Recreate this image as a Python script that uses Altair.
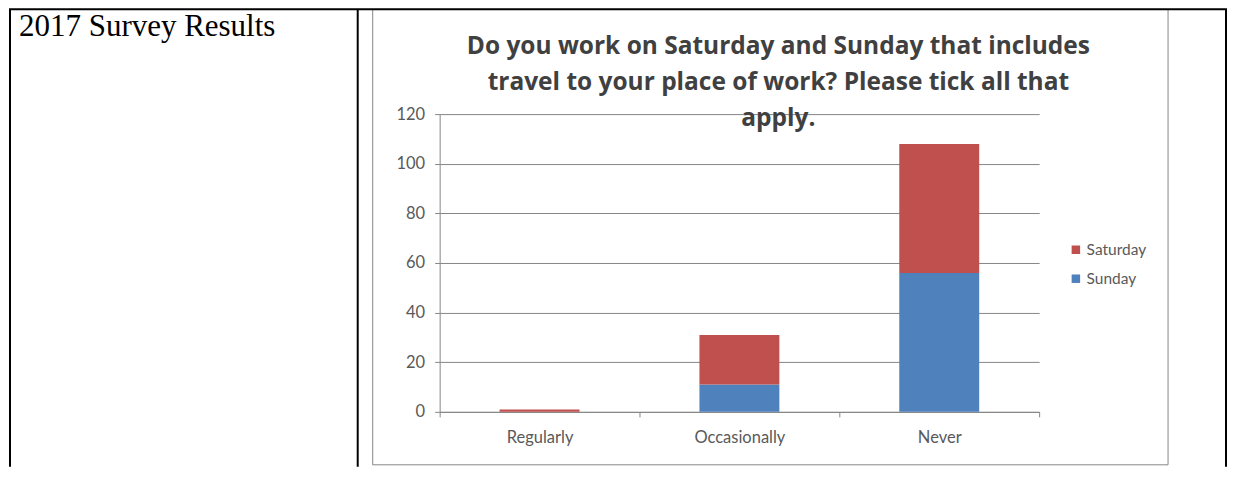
import altair as alt
import pandas as pd

CATEGORIES = ["Regularly", "Occasionally", "Never"]
SERIES = ["Saturday", "Sunday"]
SATURDAY = [1, 20, 52]
SUNDAY = [0, 11, 56]
Y_TICKS = [0, 20, 40, 60, 80, 100, 120]
TITLE_LINES = [
    "Do you work on Saturday and Sunday that includes",
    "travel to your place of work? Please tick all that",
    "apply.",
]
PAGE_TEXT = "2017 Survey Results"

rows = []
for i, c in enumerate(CATEGORIES):
    rows.append({"category": c, "series": "Sunday", "value": SUNDAY[i], "order": 0})
    rows.append({"category": c, "series": "Saturday", "value": SATURDAY[i], "order": 1})
df = pd.DataFrame(rows)

LABEL_FONT = "Lato"
AXIS_GRAY = "#868686"
TEXT_GRAY = "#595959"

bars = alt.Chart(df).mark_bar(size=80).encode(
    x=alt.X(
        "category:N",
        sort=CATEGORIES,
        scale=alt.Scale(paddingInner=0, paddingOuter=0),
        axis=alt.Axis(
            title=None,
            labelAngle=0,
            tickBand="extent",
            tickSize=5,
            tickColor=AXIS_GRAY,
            domainColor=AXIS_GRAY,
            labelFont=LABEL_FONT,
            labelFontSize=16.5,
            labelColor=TEXT_GRAY,
            labelPadding=13,
            grid=False,
        ),
    ),
    y=alt.Y(
        "value:Q",
        stack="zero",
        scale=alt.Scale(domain=[0, 120], nice=False),
        axis=alt.Axis(
            title=None,
            values=Y_TICKS,
            tickSize=5,
            tickColor=AXIS_GRAY,
            domainColor=AXIS_GRAY,
            gridColor=AXIS_GRAY,
            grid=True,
            labelFont=LABEL_FONT,
            labelFontSize=16.5,
            labelColor=TEXT_GRAY,
            labelPadding=10,
        ),
    ),
    color=alt.Color(
        "series:N",
        scale=alt.Scale(domain=SERIES, range=["#C0504D", "#4F81BD"]),
        legend=alt.Legend(
            title=None,
            orient="none",
            legendX=629,
            legendY=128,
            symbolType="square",
            symbolSize=72,
            symbolStrokeWidth=0,
            labelFont=LABEL_FONT,
            labelFontSize=15.5,
            labelColor=TEXT_GRAY,
            labelOffset=3,
            rowPadding=12,
            padding=0,
        ),
    ),
    order=alt.Order("order:Q"),
)


def rule(x, x2, y, y2, color, width):
    return alt.Chart(alt.Data(values=[{}])).mark_rule(
        color=color, strokeWidth=width
    ).encode(x=alt.value(x), x2=alt.value(x2), y=alt.value(y), y2=alt.value(y2))


# table and chart box (pixel offsets relative to the plot origin)
box_gray = "#868686"
frame = [
    rule(-67, -67, -105, 351, box_gray, 1),
    rule(729, 729, -105, 351, box_gray, 1),
    rule(-67, 729, 351, 351, box_gray, 1),
    rule(-431, 788, -105, -105, "black", 2),
    rule(-430, -430, -105, 353, "black", 2),
    rule(-82, -82, -105, 353, "black", 2),
    rule(787, 787, -105, 353, "black", 2),
]

title = alt.Chart(alt.Data(values=[{}])).mark_text(
    text=TITLE_LINES,
    lineHeight=36,
    align="center",
    baseline="alphabetic",
    font="Open Sans",
    fontWeight="bold",
    fontSize=24.5,
    color="#404040",
).encode(x=alt.value(339), y=alt.value(-60))

page_text = alt.Chart(alt.Data(values=[{}])).mark_text(
    text=PAGE_TEXT,
    align="left",
    baseline="alphabetic",
    font="Liberation Serif",
    fontSize=31,
    color="black",
).encode(x=alt.value(-421), y=alt.value(-78))

chart = alt.layer(bars, title, page_text, *frame).properties(
    width=600, height=298, padding=0
).configure_view(stroke=None)

chart.save("out.html", embed_options={"renderer": "svg", "actions": False})
